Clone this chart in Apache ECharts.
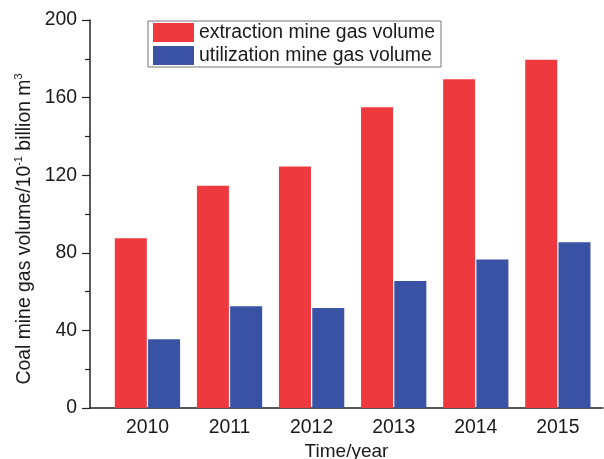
<!DOCTYPE html>
<html>
<head>
<meta charset="utf-8">
<script src="https://cdn.jsdelivr.net/npm/echarts@6/dist/echarts.min.js"></script>
<style>
html,body{margin:0;padding:0;background:#fff;}
#main{width:604px;height:459px;}
</style>
</head>
<body>
<div id="main"></div>
<script>
var years = [2010, 2011, 2012, 2013, 2014, 2015];
var extraction = [87.5, 114.5, 124.5, 155, 169.5, 179.5];
var utilization = [35.5, 52.5, 51.5, 65.5, 76.5, 85.5];
var yTicks = [0, 40, 80, 120, 160, 200];

function pairs(vals) {
	return years.map(function (y, i) { return [y, vals[i]]; });
}

var chart = echarts.init(document.getElementById('main'));
var font = 'Liberation Sans, Arial, sans-serif';

var option = {
	animation: false,
	textStyle: { fontFamily: font },
	grid: { left: 90, right: 1, top: 20, bottom: 51, containLabel: false, outerBoundsMode: 'none' },
	legend: {
		orient: 'vertical',
		left: 148,
		top: 21,
		data: ['extraction mine gas volume', 'utilization mine gas volume'],
		icon: 'rect',
		itemWidth: 41,
		itemHeight: 19,
		itemGap: 4,
		padding: [2, 6, 2, 5],
		borderColor: '#777',
		borderWidth: 1,
		textStyle: { fontSize: 19.4, color: '#1a1a1a', fontFamily: font }
	},
	xAxis: {
		type: 'value',
		min: 2009.3,
		max: 2015.55,
		name: 'Time/year',
		nameLocation: 'middle',
		nameGap: 32,
		nameTextStyle: { fontSize: 19, color: '#1a1a1a' },
		splitLine: { show: false },
		axisTick: { show: false },
		axisLine: { lineStyle: { color: '#222', width: 1.5 } },
		axisLabel: {
			fontSize: 19.4,
			color: '#1a1a1a',
			margin: 10,
			formatter: function (v) {
				return Math.abs(v - Math.round(v)) < 1e-6 ? String(Math.round(v)) : '';
			}
		}
	},
	yAxis: {
		type: 'value',
		min: yTicks[0],
		max: yTicks[yTicks.length - 1],
		interval: 40,
		name: '{n|Coal mine gas volume/10}{s|-1}{n| billion m}{s|3}',
		nameLocation: 'middle',
		nameGap: 55,
		nameTextStyle: {
			color: '#1a1a1a',
			padding: [0, 30, 0, 0],
			rich: {
				n: { fontSize: 19.4, color: '#1a1a1a', fontFamily: font },
				s: { fontSize: 11, color: '#1a1a1a', fontFamily: font, verticalAlign: 'top', padding: [0, 0, 10, 0] }
			}
		},
		splitLine: { show: false },
		axisLine: { show: true, lineStyle: { color: '#222', width: 1.5 } },
		axisTick: { show: true, inside: false, length: 8, lineStyle: { color: '#222', width: 1.2 } },
		minorTick: { show: true, splitNumber: 2, length: 5, lineStyle: { color: '#222', width: 1.2 } },
		axisLabel: { fontSize: 19.4, color: '#1a1a1a', margin: 13 }
	},
	series: [
		{
			name: 'extraction mine gas volume',
			type: 'bar',
			barWidth: 32,
			barGap: '4%',
			itemStyle: { color: '#EE3A3F' },
			data: pairs(extraction)
		},
		{
			name: 'utilization mine gas volume',
			type: 'bar',
			barWidth: 32,
			barGap: '4%',
			itemStyle: { color: '#3A52A4' },
			data: pairs(utilization)
		}
	]
};

chart.setOption(option);
</script>
</body>
</html>
